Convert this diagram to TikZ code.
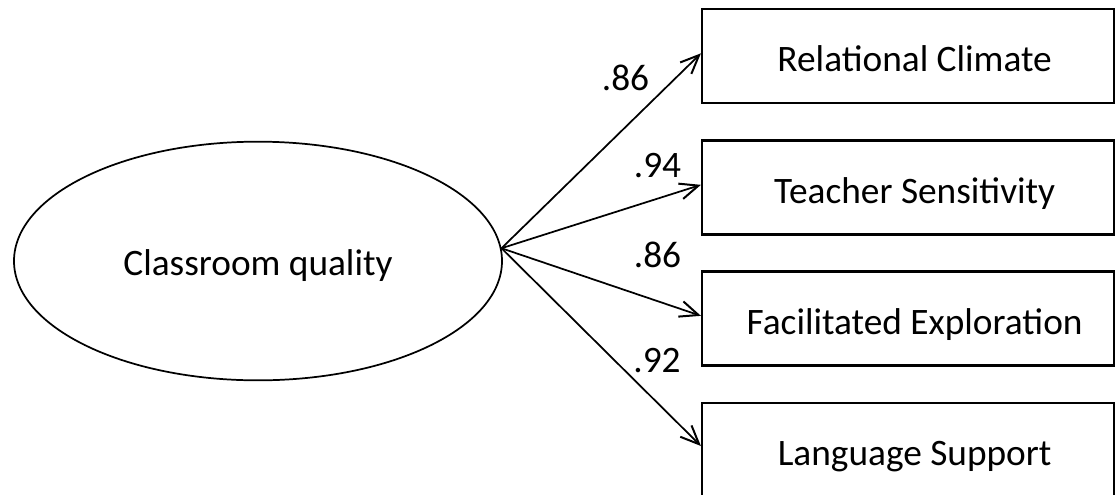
\documentclass[tikz,border=0pt]{standalone}
\usepackage{fontspec}
\setmainfont{Carlito}
\usetikzlibrary{shapes.geometric,arrows.meta}
\begin{document}
\begin{tikzpicture}[x=0.75pt,y=-0.75pt,
  txt/.style={font=\fontsize{28}{33}\selectfont},
  box/.style={txt,draw,line width=1.6pt,rectangle,minimum width=309pt,minimum height=70.5pt,inner sep=0pt,text height=23.25pt,text depth=0pt},
  latent/.style={txt,draw,ellipse,line width=1.3pt,minimum width=366pt,minimum height=179pt,inner sep=0pt,text height=21pt,text depth=0pt},
  load/.style={-{Straight Barb[length=14pt,width=12pt,line width=1.5pt]},line width=1.3pt},
  coef/.style={txt,anchor=base,inner sep=0pt}]
\useasboundingbox (0,0) rectangle (1115,494);
\node[latent] (cq) at (258,261) {Classroom quality};
\node[box] (rc) at (908,56) {\hspace*{10pt}Relational Climate};
\node[box] (ts) at (908,187.5) {\hspace*{10pt}Teacher Sensitivity};
\node[box] (fe) at (908,318.5) {\hspace*{10pt}Facilitated Exploration};
\node[box] (ls) at (908,450) {\hspace*{10pt}Language Support};
\coordinate (src) at (cq.3);
\draw[load] (src) -- ([yshift=2pt]rc.west);
\draw[load] (src) -- ([yshift=2pt]ts.west);
\draw[load] (src) -- ([yshift=2pt]fe.west);
\draw[load] (src) -- ([yshift=3pt]ls.west);
\node[coef] (c1) at (625.5,90) {.86};
\node[coef] (c2) at (657.5,177) {.94};
\node[coef] (c3) at (657.5,267) {.86};
\node[coef] (c4) at (657,372) {.92};
\end{tikzpicture}
\end{document}
